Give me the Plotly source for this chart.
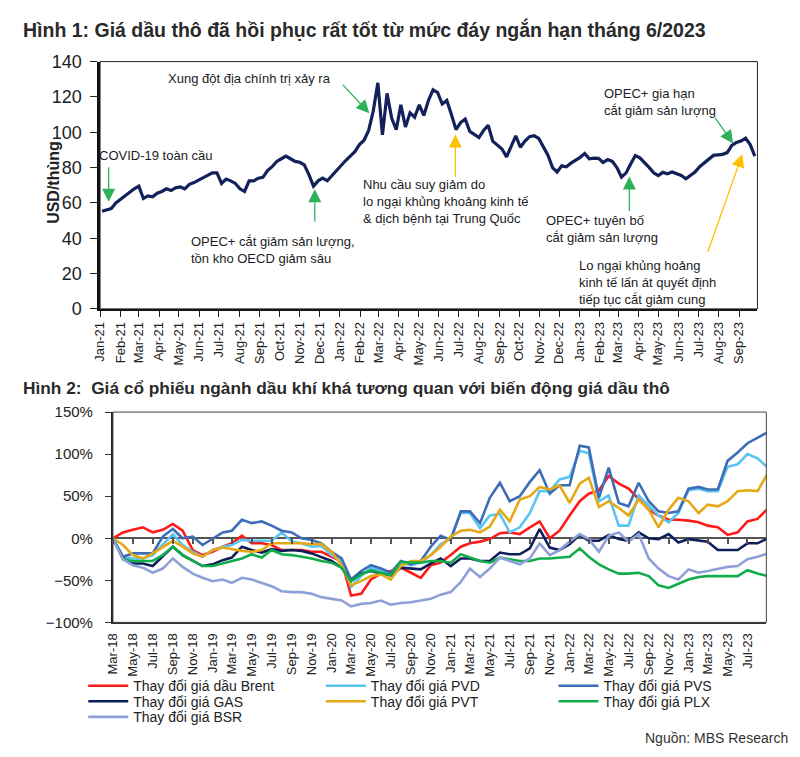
import plotly.graph_objects as go
import pandas as pd

W, H = 800, 757
FONT = "Liberation Sans, Arial, sans-serif"

# ---------------- Chart 1 data: Brent price (USD/thùng), weekly samples
oil_dates = pd.date_range("2021-01-04", "2023-09-25", freq="7D")
oil_2021 = [55.3, 56.0, 56.8, 60.0,
            62.0, 64.5, 66.5, 68.0,
            69.5, 62.5, 64.0, 63.5, 65.5,
            66.5, 68.0, 67.0, 68.5,
            69.0, 68.0, 70.5, 71.5, 73.0,
            74.5, 76.0, 77.0, 77.0,
            71.0, 73.5, 72.5, 71.0,
            68.0, 66.5, 72.5, 72.5, 74.0,
            74.5, 78.3, 80.5, 83.5,
            85.0, 86.5, 85.0, 83.5,
            83.0, 81.5, 76.0, 69.5, 72.5,
            74.0, 72.5, 75.5, 78.0]
oil_2022 = [81.0, 84.0, 86.5, 89.0, 93.0,
            95.5, 101.0, 112.0, 128.0,
            98.5, 122.0, 108.0, 101.5,
            115.5, 103.0, 111.0, 108.5,
            115.5, 109.5, 118.0, 124.0, 122.5,
            116.0, 118.0, 110.0, 101.5,
            105.5, 107.5, 100.5, 98.5,
            97.0, 101.0, 104.0, 95.0, 93.0,
            90.5, 86.0, 92.0, 98.0,
            91.5, 95.0, 97.5, 98.0, 96.5,
            91.5, 87.0, 80.0, 77.5,
            81.0, 80.5, 82.5, 84.0]
oil_2023 = [85.8, 88.0, 85.0, 85.3, 85.2,
            82.9, 84.5, 83.5, 80.0,
            74.6, 77.0, 82.0, 86.8,
            85.5, 83.0, 80.1, 77.0,
            75.5, 77.3, 76.5, 77.5, 76.5,
            75.5, 73.7, 75.5, 77.5,
            80.5, 82.5, 84.5, 86.9, 87.2,
            87.5, 88.5, 92.5, 94.2,
            95.0, 96.6, 93.0, 86.5]
oil_price = oil_2021 + oil_2022 + oil_2023

# ---------------- Chart 2 data: % change since Mar-18, monthly
months = pd.date_range("2018-03-01", periods=67, freq="MS")
brent = [0, 7, 10, 13, 7, 10, 17, 9, -14, -20, -16, -10, -6, 3, -6, -6, -8, -14, -14, -14, -16, -16, -22, -27,
         -68, -66, -49, -42, -39, -35, -41, -47, -32,
         -29, -20, -10, -6, -4, -1, 6, 7, 5, 13, 20, 0, 9, 27, 44, 53, 57, 74, 65, 59, 47, 34, 27, 22,
         22, 21, 19, 15, 13, 4, 7, 20, 23, 35]
pvd = [0, -22, -24, -24, -20, -8, 5, -8, -16, -22, -14, -10, -8, -2, -3, -3, -3, 7, -4, -6, -10, -9, -20, -27,
       -58, -45, -35, -39, -43, -29, -32, -29, -20,
       -7, 0, 30, 30, 12, 27, 29, 7, 13, 30, 56, 56, 70, 73, 104, 101, 44, 51, 15, 15, 51, 39, 27, 19,
       30, 57, 59, 56, 56, 85, 88, 100, 95, 84]
pvs = [0, -22, -18, -18, -18, 2, 11, 0, 2, -8, -1, 7, 9, 22, 18, 20, 15, 9, 7, 0, -2, -6, -16, -24,
       -49, -39, -32, -36, -41, -27, -31, -27, -10,
       3, -2, 32, 32, 18, 48, 66, 44, 50, 67, 81, 53, 63, 63, 110, 108, 48, 84, 42, 38, 66, 44, 32, 30,
       32, 59, 61, 58, 58, 92, 102, 113, 120, 126]
gas = [0, -24, -30, -30, -33, -22, -10, -20, -27, -33, -31, -26, -23, -10, -14, -17, -13, -15, -14, -15, -18, -22, -27, -35,
       -51, -42, -39, -42, -44, -35, -36, -37, -30,
       -24, -33, -24, -24, -27, -27, -17, -19, -19, -12, 11, -11, -14, -7, 4, -3, -3, 4, -1, -3, 7, 0, -1, 5,
       -5, -1, -3, -4, -14, -14, -14, -6, -6, 0]
pvt = [0, -8, -20, -24, -18, -10, -3, -10, -18, -22, -14, -11, -13, -15, -16, -14, -6, -6, -6, -6, -7, -7, -16, -32,
       -56, -51, -45, -43, -49, -33, -27, -27, -20,
       -10, 2, 9, 10, 7, 14, 34, 20, 46, 50, 61, 58, 63, 42, 65, 72, 37, 44, 36, 27, 46, 34, 13, 34,
       48, 44, 30, 40, 38, 44, 56, 57, 56, 77]
plx = [0, -25, -27, -27, -27, -20, -10, -20, -27, -33, -33, -30, -27, -24, -19, -23, -14, -19, -20, -22, -24, -27, -29, -35,
       -51, -43, -38, -41, -44, -28, -29, -29, -27,
       -27, -29, -19, -23, -27, -29, -23, -25, -27, -27, -24, -24, -23, -22, -12, -22, -31, -37, -42, -42, -41, -45, -56, -59,
       -54, -49, -46, -45, -45, -45, -45, -38, -42, -45]
bsr = [0, -25, -32, -35, -41, -36, -24, -34, -42, -47, -51, -49, -53, -47, -49, -53, -57, -63, -64, -64, -66, -70, -72, -74,
       -81, -78, -77, -74, -79, -77, -76, -74, -72,
       -67, -64, -52, -36, -46, -36, -23, -27, -31, -24, -6, -20, -14, -4, 5, -1, -16, 3, 7, -4, 5, -24, -36, -45,
       -49, -37, -41, -39, -36, -34, -33, -25, -22, -18]

# (name, values, colour, legend slot (column, row))
series = [
    ("Thay đổi giá dầu Brent", brent, "#FF1A1A", (0, 0)),
    ("Thay đổi giá PVD", pvd, "#5BC5F2", (1, 0)),
    ("Thay đổi giá PVS", pvs, "#3E6DB8", (2, 0)),
    ("Thay đổi giá GAS", gas, "#0E1E5B", (0, 1)),
    ("Thay đổi giá PVT", pvt, "#E6A817", (1, 1)),
    ("Thay đổi giá PLX", plx, "#11AD4B", (2, 1)),
    ("Thay đổi giá BSR", bsr, "#8FA0D8", (0, 2)),
]
leg_cols = [76, 316, 551]
leg_rows = [678, 694, 710]

fig = go.Figure()
fig.add_trace(go.Scatter(x=oil_dates, y=oil_price, mode="lines", line=dict(color="#13215B", width=3.2),
                         xaxis="x", yaxis="y", showlegend=False, hoverinfo="skip"))
legend_layouts = {}
for k, (name, vals, col, (c, r)) in enumerate(series):
    lname = "legend" if k == 0 else f"legend{k + 1}"
    fig.add_trace(go.Scatter(x=months, y=vals, mode="lines", name=name, line=dict(color=col, width=2.6),
                             xaxis="x2", yaxis="y2", legend=lname))
    legend_layouts[lname] = dict(x=leg_cols[c] / W, y=1 - leg_rows[r] / H, xanchor="left", yanchor="top",
                                 font=dict(size=14, color="#222"), bgcolor="rgba(0,0,0,0)", itemwidth=40)
# helper trace for tick marks on the zero line
fig.add_trace(go.Scatter(x=[months[0]], y=[0], mode="markers", marker=dict(opacity=0), xaxis="x3", yaxis="y2",
                         showlegend=False, hoverinfo="skip"))

y1d = [1 - 307 / H, 1 - 53 / H]
y2d = [1 - 629 / H, 1 - 413 / H]
zero_pos = y2d[0] + (0 - (-100)) / 250 * (y2d[1] - y2d[0])
x2range = ["2018-03-01", "2023-08-28"]

fig.update_layout(
    width=W, height=H, margin=dict(l=0, r=0, t=0, b=0),
    paper_bgcolor="white", plot_bgcolor="white",
    font=dict(family=FONT, color="#222"),
    xaxis=dict(domain=[93 / W, 757 / W], anchor="y", type="date", range=["2021-01-01", "2023-09-29"],
               tick0="2021-01-01", dtick="M1", tickformat="%b-%y", tickangle=-90, ticks="outside", ticklen=6,
               tickcolor="#222", showline=True, linecolor="#111", linewidth=2, showgrid=False, zeroline=False,
               tickfont=dict(size=13, color="#222")),
    yaxis=dict(domain=y1d, anchor="x", range=[0, 140], dtick=20, ticks="outside", ticklen=7, tickcolor="#222",
               showline=True, linecolor="#111", linewidth=2.5, showgrid=False, zeroline=False,
               tickfont=dict(size=18, color="#222"), ticklabelstandoff=5),
    xaxis2=dict(domain=[106 / W, 766 / W], anchor="y2", type="date", range=x2range,
                tick0="2018-03-01", dtick="M2", tickformat="%b-%y", tickangle=-90, ticks="",
                showline=True, linecolor="#333", linewidth=1.5, showgrid=False, zeroline=False,
                tickfont=dict(size=13, color="#222"), ticklabelstandoff=4),
    yaxis2=dict(domain=y2d, anchor="x2", range=[-100, 150], dtick=50, ticksuffix="%", ticks="outside", ticklen=6,
                tickcolor="#333", showline=True, linecolor="#222", linewidth=2, showgrid=False,
                zeroline=True, zerolinecolor="#555", zerolinewidth=1.5,
                tickfont=dict(size=15, color="#222"), ticklabelstandoff=9),
    xaxis3=dict(overlaying="x2", anchor="free", position=zero_pos, type="date", range=x2range,
                tick0="2018-03-01", dtick="M2", ticks="outside", ticklen=5, tickcolor="#555", tickwidth=1.5,
                showticklabels=False, showline=False, showgrid=False, zeroline=False),
    **legend_layouts,
)

# frames
fig.add_shape(type="rect", xref="paper", yref="paper", x0=93 / W, x1=757 / W, y0=y1d[0], y1=y1d[1],
              line=dict(color="#222", width=1))
fig.add_shape(type="rect", xref="paper", yref="paper", x0=106 / W, x1=766 / W, y0=y2d[0], y1=y2d[1],
              line=dict(color="#444", width=1))

def ptxt(x, y, text, size=13, bold=False, anchor="left", color="#1c1c24"):
    fig.add_annotation(xref="paper", yref="paper", x=x / W, y=1 - y / H, xanchor=anchor, yanchor="middle",
                       text=(f"<b>{text}</b>" if bold else text), showarrow=False, align="left",
                       font=dict(size=size, color=color, family=FONT))

ptxt(13, 20, "Hình 1: Giá dầu thô đã hồi phục rất tốt từ mức đáy ngắn hạn tháng 6/2023", size=19.5, bold=True, color="#2a2a2a")
ptxt(13, 388, "Hình 2:  Giá cổ phiếu ngành dầu khí khá tương quan với biến động giá dầu thô", size=17.3, bold=True, color="#2a2a2a")
ptxt(790, 748, "Nguồn: MBS Research", size=14, anchor="right", color="#333")
fig.add_annotation(xref="paper", yref="paper", x=46 / W, y=1 - 177 / H, xanchor="center", yanchor="middle",
                   text="<b>USD/thùng</b>", textangle=-90,
                   showarrow=False, font=dict(size=16, color="#222", family=FONT))

ptxt(160, 70, "Xung đột địa chính trị xảy ra")
ptxt(90, 149, "COVID-19 toàn cầu")
ptxt(183, 247, "OPEC+ cắt giảm sản lượng,<br>tồn kho OECD giảm sâu")
ptxt(357, 197, "Nhu cầu suy giảm do<br>lo ngại khủng khoảng kinh tế<br>&amp; dịch bệnh tại Trung Quốc")
ptxt(541, 225, "OPEC+ tuyên bố<br>cắt giảm sản lượng")
ptxt(600, 94, "OPEC+ gia hạn<br>cắt giảm sản lượng")
ptxt(575, 280, "Lo ngại khủng hoảng<br>kinh tế lấn át quyết định<br>tiếp tục cắt giảm cung")

GREEN = "#2EB15B"
YELLOW = "#FFC000"
arrows = [
    ("2021-01-14", 60.6, 0, -36, GREEN),
    ("2021-11-24", 67.8, 0, 34, GREEN),
    ("2022-02-15", 110.8, -28, -30, GREEN),
    ("2022-06-26", 98.7, 0, 44, YELLOW),
    ("2023-03-18", 75.0, 0, 36, GREEN),
    ("2023-08-23", 93.7, -19, -27, GREEN),
    ("2023-09-06", 87.6, -35, 99, YELLOW),
]
for ax_, ay_, dx, dy, col in arrows:
    fig.add_annotation(xref="x", yref="y", x=ax_, y=ay_, ax=dx, ay=dy, text="", showarrow=True,
                       arrowhead=2, arrowsize=2, arrowwidth=1.3, arrowcolor=col, standoff=0)

fig.write_html("out.html")
